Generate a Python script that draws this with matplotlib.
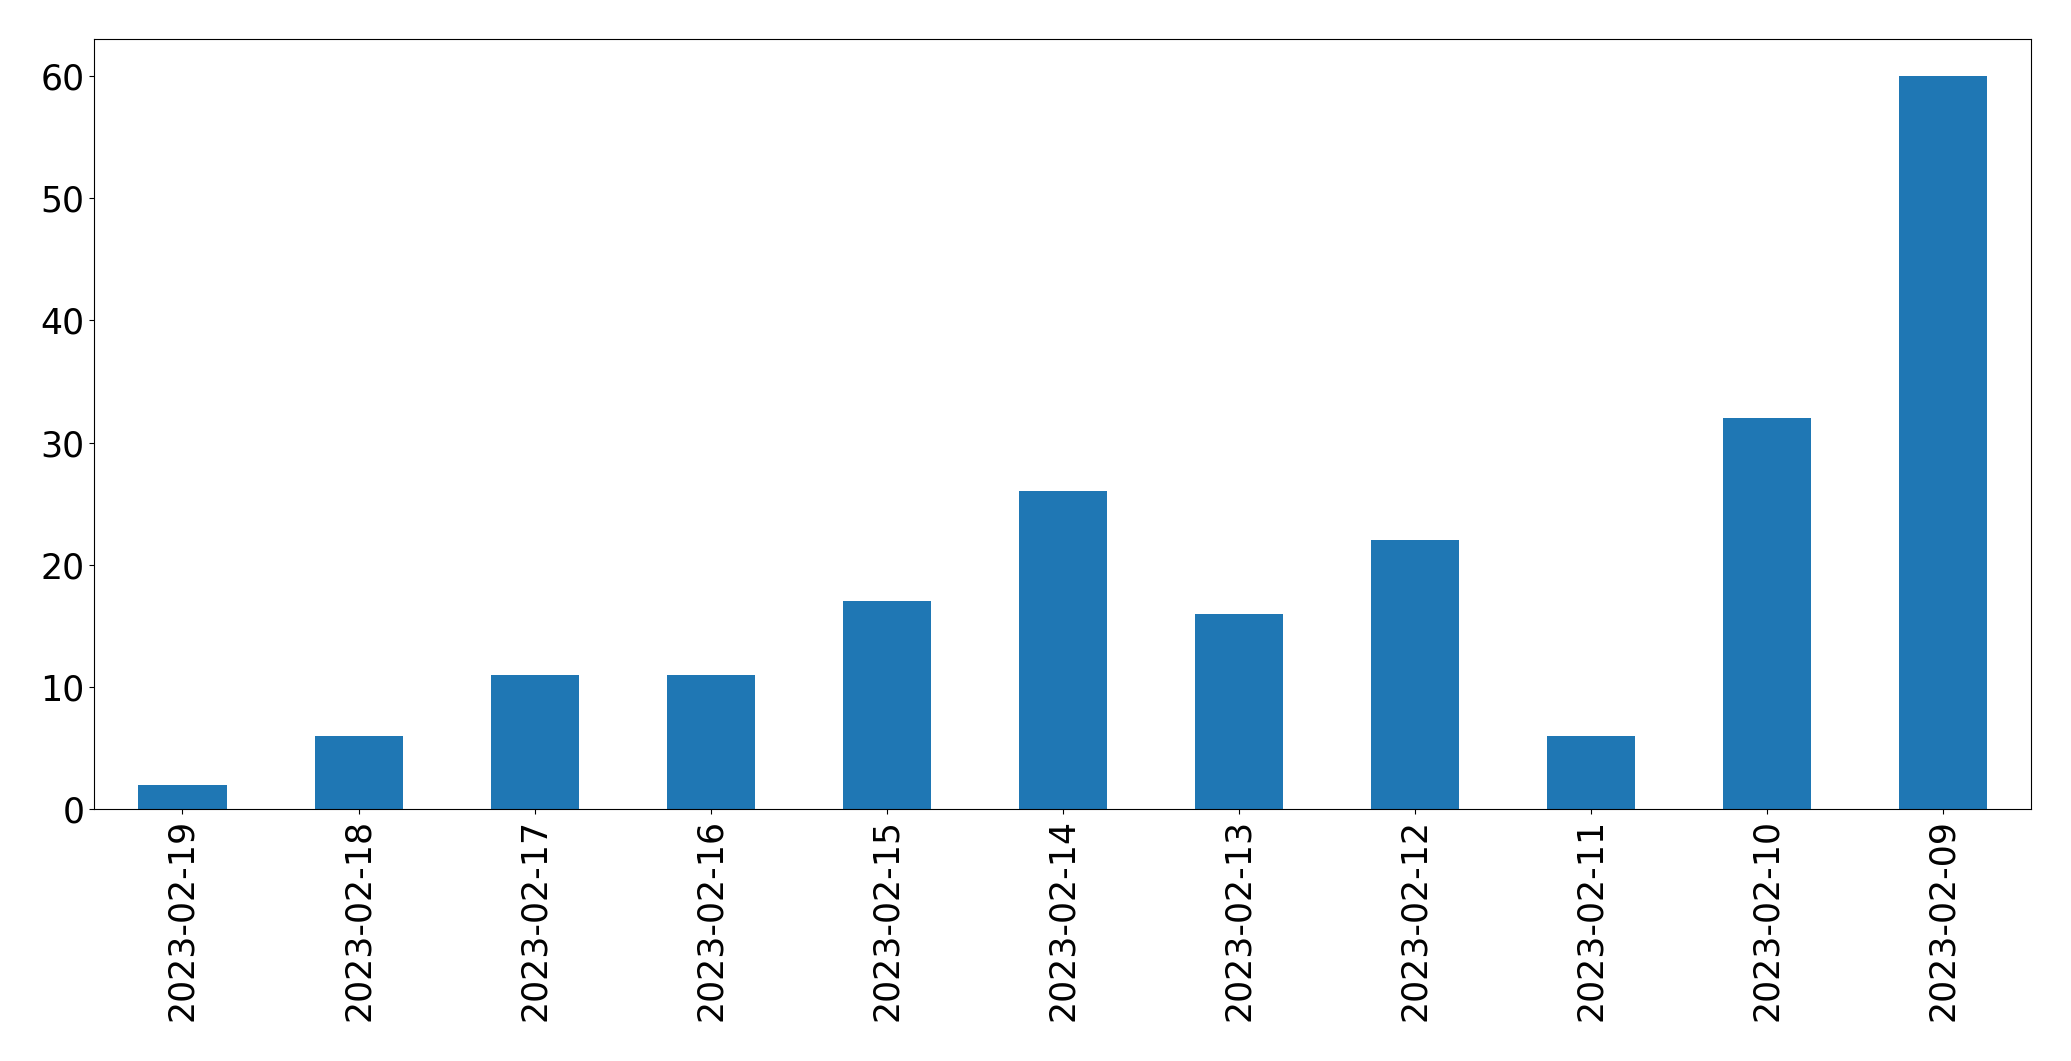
import matplotlib

matplotlib.use("Agg")
import matplotlib.pyplot as plt
import pandas as pd

# Counts per day, newest first (as in the original pandas plot)
dates = [
    "2023-02-19",
    "2023-02-18",
    "2023-02-17",
    "2023-02-16",
    "2023-02-15",
    "2023-02-14",
    "2023-02-13",
    "2023-02-12",
    "2023-02-11",
    "2023-02-10",
    "2023-02-09",
]
counts = [2, 6, 11, 11, 17, 26, 16, 22, 6, 32, 60]

plt.rcParams["font.size"] = 25

fig = plt.figure(figsize=(20.71, 10.61), dpi=100)
ax = fig.add_axes([0.0456, 0.2375, 0.9353, 0.7253])

series = pd.Series(counts, index=dates)
series.plot(kind="bar", ax=ax, color="#1f77b4", width=0.5)

ax.tick_params(axis="both", labelsize=25)

fig.savefig("out.png", dpi=100)
